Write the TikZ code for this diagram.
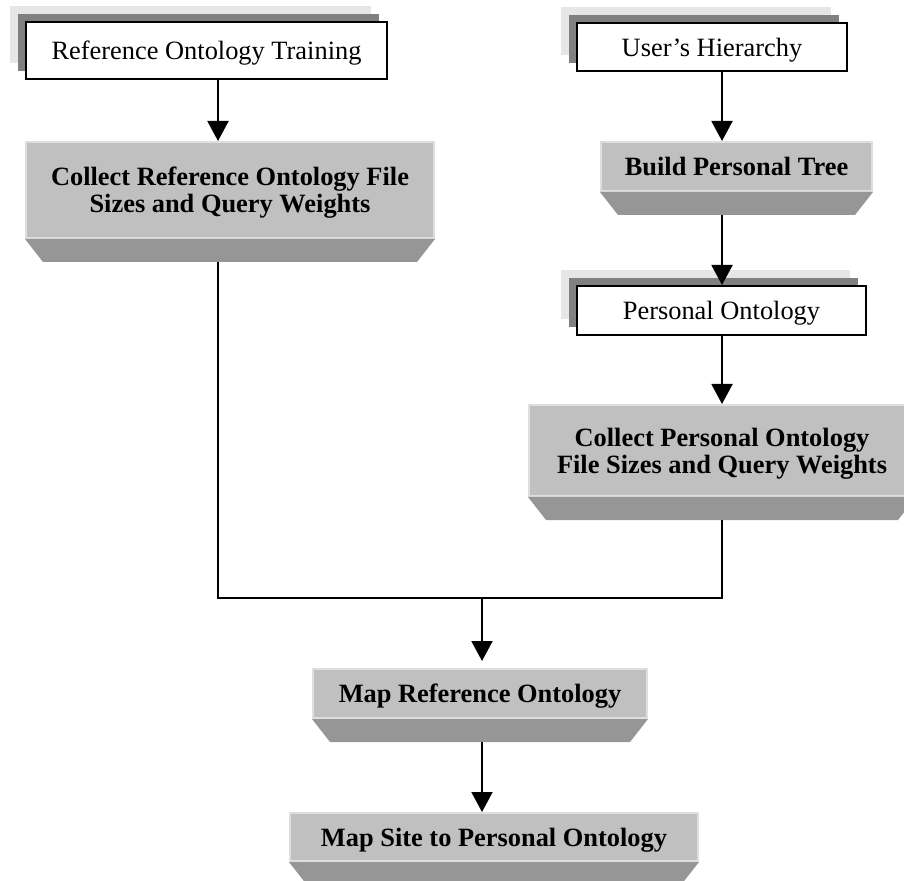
\documentclass[tikz,border=0pt]{standalone}
\usepackage{fontspec}
\setmainfont{Liberation Serif}
\usetikzlibrary{arrows.meta,shadows}
\definecolor{facegray}{RGB}{192,192,192}
\definecolor{bevelgray}{RGB}{150,150,150}
\definecolor{edgegray}{RGB}{222,222,222}
\definecolor{shadelight}{RGB}{230,230,230}
\definecolor{shadedark}{RGB}{128,128,128}
\newcommand{\boxfont}{\fontsize{13.2pt}{13.6pt}\selectfont}
\tikzset{
  inbox/.style={draw,fill=white,line width=1pt,inner sep=0pt,text depth=0pt,
    general shadow={fill=shadelight,draw=none,shadow xshift=-8pt,shadow yshift=8pt},
    general shadow={fill=shadedark,draw=none,shadow xshift=-4pt,shadow yshift=4pt}},
  stepface/.style={fill=facegray,draw=edgegray,line width=1pt,inner sep=0pt,text depth=0pt,
    font=\boxfont\bfseries,align=center,
    path picture={\draw[gray!70,line width=1pt](path picture bounding box.north west)--(path picture bounding box.north east);}},
  bevel/.style={fill=bevelgray},
  link/.style={->,line width=1pt},
  line/.style={line width=1pt}
}
\begin{document}
\begin{tikzpicture}[x=0.5pt,y=-0.5pt,>={Triangle[length=10pt,width=10.5pt]},font=\boxfont]
\useasboundingbox (0,0) rectangle (904,881);
\clip (0,0) rectangle (904,881);
% inputs
\node[inbox,minimum width=180.5pt,minimum height=28.5pt] (rot) at (206.5,50.5) {Reference Ontology Training};
\node[inbox,minimum width=135pt,minimum height=24pt] (uh) at (712,47) {User’s Hierarchy};
\node[inbox,minimum width=144.5pt,minimum height=24.5pt] (po) at (721.5,310.5) {Personal Ontology};
% steps
\node[stepface,minimum width=204pt,minimum height=48pt] (crf) at (230,190) {Collect Reference Ontology File\\Sizes and Query Weights};
\node[stepface,minimum width=135.5pt,minimum height=24.5pt] (bpt) at (736.5,166.5) {Build Personal Tree};
\node[stepface,minimum width=193pt,minimum height=45.5pt] (cpf) at (722,450.5) {Collect Personal Ontology\\File Sizes and Query Weights};
\node[stepface,minimum width=167pt,minimum height=24.5pt] (mro) at (480,693.5) {Map Reference Ontology};
\node[stepface,minimum width=204pt,minimum height=24pt] (msp) at (494,837) {Map Site to Personal Ontology};
% bevels under the steps
\foreach \n in {crf,bpt,cpf,mro,msp}{
  \fill[bevel] (\n.south west) -- (\n.south east) -- ([xshift=-9pt,yshift=-11.5pt]\n.south east) -- ([xshift=9pt,yshift=-11.5pt]\n.south west) -- cycle;
  \coordinate (\n-b) at ([yshift=-11.5pt]\n.south);
}
\coordinate (jl) at (218,598);
\coordinate (jm) at (482,598);
\coordinate (jr) at (722,598);
% connectors
\draw[link] (rot.south -| jl) -- (crf.north -| jl);
\draw[link] (uh.south -| jr) -- (bpt.north -| jr);
\draw[link] (bpt-b -| jr) -- (po.north -| jr);
\draw[link] (po.south -| jr) -- (cpf.north -| jr);
\draw[line] (crf-b -| jl) -- (jl) -- (jr) -- (cpf-b -| jr);
\draw[link,shorten >=3.5pt] (jm) -- (mro.north -| jm);
\draw[link] (mro-b -| jm) -- (msp.north -| jm);
\end{tikzpicture}
\end{document}
